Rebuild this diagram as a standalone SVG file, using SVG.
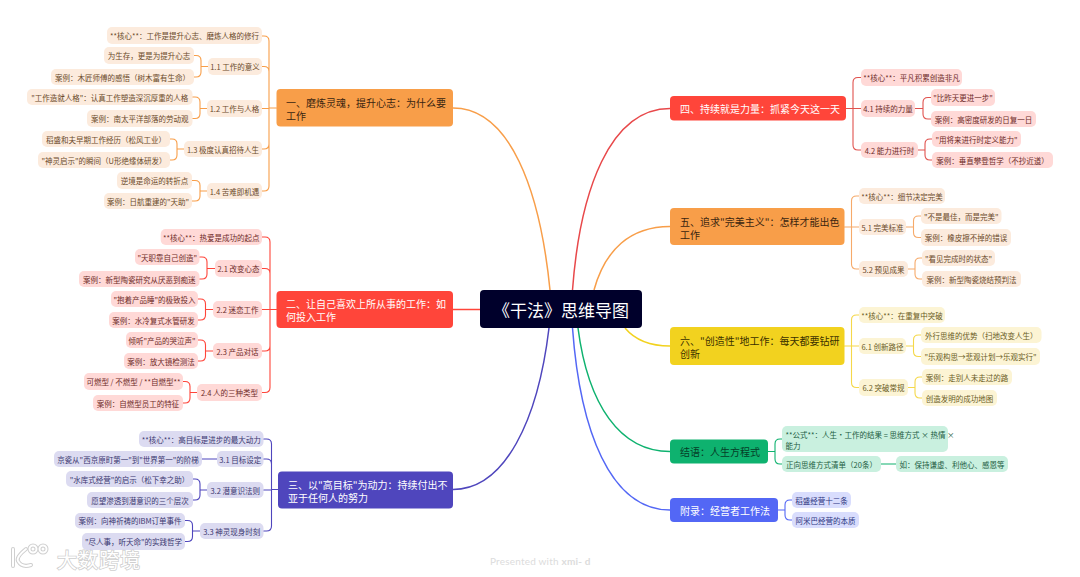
<svg xmlns="http://www.w3.org/2000/svg" width="1080" height="577" viewBox="0 0 1080 577">
<style>
text{font-family:"Noto Sans CJK SC","Noto Sans",sans-serif}
.s{font-size:7.5px;text-anchor:middle;dominant-baseline:central}
.m{font-size:10px;dominant-baseline:central}
.c{fill:none;stroke-width:1.1;stroke-linecap:round}
.k{fill:none;stroke-width:1.5}
.o rect{fill:#fcebdd}.o text{fill:#6b4a2a}
.r rect{fill:#ffd9d7}.r text{fill:#6e2b28}
.i rect{fill:#dcdbf1}.i text{fill:#3a3770}
.y rect{fill:#fcf4d4}.y text{fill:#6a5c1e}
.g rect{fill:#c9f0df}.g text{fill:#1c5c42}
.b rect{fill:#d9ddfd}.b text{fill:#2b3380}
.mo rect{fill:#f89e49}.mo text{fill:#3a2510}
.mr rect{fill:#ff453a}.mr text{fill:#fff}
.mi rect{fill:#4f46bd}.mi text{fill:#fff}
.my rect{fill:#f2d21f}.my text{fill:#3a3000}
.mg rect{fill:#0eb26f}.mg text{fill:#063d27}
.mb rect{fill:#5367f5}.mb text{fill:#fff}
</style>
<rect width="1080" height="577" fill="#fff"/>
<g id="connectors">
<g class="k">
<path stroke="#f89e49" d="M453,108C510,108 540,190 550,290"/>
<path stroke="#ff453a" d="M453,309.5H480"/>
<path stroke="#4f46bd" d="M453,489.5C505,489.5 538,420 549,328"/>
<path stroke="#e8484a" d="M572.5,290C580,190 610,108.5 670,108.5"/>
<path stroke="#f89e49" d="M594,290C605,250 630,226.500 670,226.500"/>
<path stroke="#f2d21f" d="M625,328C635,340 650,346 670,346"/>
<path stroke="#0eb26f" d="M578,328C588,405 620,451.500 670,451.500"/>
<path stroke="#5367f5" d="M572.5,328C580,430 610,510 670,510"/>
</g>
<g class="c" stroke="#f89e49">
<path d="M276.5,108H269M262,36H264Q269,36 269,41V186Q269,191 264,191H262M262,66.500H264Q269,66.500 269,71.500M262,108.500H269M262,149H264Q269,149 269,144"/>
<path d="M208,66.500H201M194,55.500H196Q201,55.500 201,60.500V72Q201,77 196,77H194"/>
<path d="M207,108.500H200M192.500,97H195Q200,97 200,102V113.500Q200,118.500 195,118.500H192.500"/>
<path d="M184,149H177M170,139H172Q177,139 177,144V155Q177,160 172,160H170"/>
<path d="M207,191H200M192,180.500H195Q200,180.500 200,185.500V196Q200,201 195,201H192"/>
</g>
<g class="c" stroke="#ff453a">
<path d="M276.500,309.500H270M262,237H265Q270,237 270,242V387.500Q270,392.500 265,392.500H262M262,268.500H265Q270,268.500 270,273.500M262,309.500H270M262,351H265Q270,351 270,346"/>
<path d="M215,268.500H207M199.500,257H202Q207,257 207,262V274Q207,279 202,279H199.500"/>
<path d="M213,309.500H205.500M198,299H200.500Q205.500,299 205.500,304V315Q205.500,320 200.500,320H198"/>
<path d="M213,351H205.500M198,340H200.500Q205.500,340 205.500,345V356Q205.500,361 200.500,361H198"/>
<path d="M197,392.500H190M183,381.500H185Q190,381.500 190,386.500V398Q190,403 185,403H183"/>
</g>
<g class="c" stroke="#4f46bd">
<path d="M278,489.500H271.500M263.500,439H266.500Q271.500,439 271.500,444V526Q271.500,531 266.500,531H263.500M263.500,459H266.500Q271.500,459 271.500,464M263.500,490H271.500"/>
<path d="M217,459H202"/>
<path d="M207,490H200M193,479H195Q200,479 200,484V495Q200,500 195,500H193"/>
<path d="M200,531H192.500M185,520.500H187.500Q192.500,520.500 192.500,525.500V536.500Q192.500,541.500 187.500,541.500H185"/>
</g>
<g class="c" stroke="#e0524e">
<path d="M846,108.500H853M861,77.500H858Q853,77.500 853,82.500V145Q853,150 858,150H861M853,108.500H861"/>
<path d="M915,108.500H923M931,97.500H928Q923,97.500 923,102.500V114Q923,119 928,119H931"/>
<path d="M918,150H925M932,139H930Q925,139 925,144V155Q925,160 930,160H932"/>
</g>
<g class="c" stroke="#f6aa6a">
<path d="M844.500,227H851.500M859,196H856.500Q851.500,196 851.500,201V264Q851.500,269 856.500,269H859M851.500,227H859"/>
<path d="M906,227H913.500M921,216H918.500Q913.500,216 913.500,221V232.500Q913.500,237.500 918.500,237.500H921"/>
<path d="M908,269H915M922,258H920Q915,258 915,263V274Q915,279 920,279H922"/>
</g>
<g class="c" stroke="#f5d84a">
<path d="M844.500,346H851.500M859,315H856.500Q851.500,315 851.500,320V382.500Q851.500,387.500 856.500,387.500H859M851.500,346H859"/>
<path d="M906,346H913.500M921,335H918.500Q913.500,335 913.500,340V351.500Q913.500,356.500 918.500,356.500H921"/>
<path d="M908,387.500H915M922,377H920Q915,377 915,382V393Q915,398 920,398H922"/>
</g>
<g class="c" stroke="#0eb26f">
<path d="M768,451.500H775M782,439H780Q775,439 775,444V459Q775,464 780,464H782"/>
<path d="M881,464H896"/>
</g>
<g class="c" stroke="#5367f5">
<path d="M778,510H785M792,500H790Q785,500 785,505V515Q785,520 790,520H792"/>
</g>
</g>

<g id="root"><rect x="480" y="290" width="162" height="38" rx="4" fill="#00002b"/><text x="561" y="309.500" font-size="17" fill="#fff" text-anchor="middle" dominant-baseline="central">《干法》思维导图</text></g>

<g id="n1" class="mo"><rect x="276.500" y="89" width="176.500" height="37.500" rx="4"/><text class="m" x="286" y="102">一、磨炼灵魂，提升心志：为什么要</text><text class="m" x="286" y="115">工作</text></g>
<g id="n2" class="mr"><rect x="276.500" y="291" width="176.500" height="37" rx="4"/><text class="m" x="286" y="303">二、让自己喜欢上所从事的工作：如</text><text class="m" x="286" y="316">何投入工作</text></g>
<g id="n3" class="mi"><rect x="278" y="471.500" width="175" height="37" rx="4"/><text class="m" x="288" y="484">三、以"高目标"为动力：持续付出不</text><text class="m" x="288" y="497">亚于任何人的努力</text></g>
<g id="n4" class="mr"><rect x="670" y="96" width="176" height="24.500" rx="4"/><text class="m" x="680" y="108.500">四、持续就是力量：抓紧今天这一天</text></g>
<g id="n5" class="mo"><rect x="670" y="208" width="174.500" height="37" rx="4"/><text class="m" x="680" y="221">五、追求"完美主义"：怎样才能出色</text><text class="m" x="680" y="234">工作</text></g>
<g id="n6" class="my"><rect x="670" y="327" width="174.500" height="38" rx="4"/><text class="m" x="680" y="340">六、"创造性"地工作：每天都要钻研</text><text class="m" x="680" y="353">创新</text></g>
<g id="n7" class="mg"><rect x="670" y="439.500" width="98" height="24" rx="4"/><text class="m" x="680" y="451.500">结语：人生方程式</text></g>
<g id="n8" class="mb"><rect x="670" y="498" width="108" height="24" rx="4"/><text class="m" x="680" y="510">附录：经营者工作法</text></g>

<g class="o">
<g id="a0"><rect x="107" y="27" width="155" height="17" rx="5"/><text class="s" x="184.500" y="35.500">**核心**：工作是提升心志、磨炼人格的修行</text></g>
<g id="a1"><rect x="208" y="58" width="54" height="17" rx="5"/><text class="s" x="235" y="66.500">1.1 工作的意义</text></g>
<g id="a11"><rect x="104" y="47" width="90" height="17" rx="5"/><text class="s" x="149" y="55.500">为生存，更是为提升心志</text></g>
<g id="a12"><rect x="51" y="69" width="143" height="16" rx="5"/><text class="s" x="122.500" y="77">案例：木匠师傅的感悟（树木富有生命）</text></g>
<g id="a2"><rect x="207" y="100" width="55" height="17" rx="5"/><text class="s" x="234.500" y="108.500">1.2 工作与人格</text></g>
<g id="a21"><rect x="27" y="89" width="165.500" height="16" rx="5"/><text class="s" x="109.700" y="97">"工作造就人格"：认真工作塑造深沉厚重的人格</text></g>
<g id="a22"><rect x="87" y="110" width="105.500" height="17" rx="5"/><text class="s" x="139.700" y="118.500">案例：南太平洋部落的劳动观</text></g>
<g id="a3"><rect x="184" y="141" width="78" height="16" rx="5"/><text class="s" x="223" y="149">1.3 极度认真招待人生</text></g>
<g id="a31"><rect x="42" y="131" width="128" height="16" rx="5"/><text class="s" x="106" y="139">稻盛和夫早期工作经历（松风工业）</text></g>
<g id="a32"><rect x="38" y="152" width="132" height="16" rx="5"/><text class="s" x="104" y="160">"神灵启示"的瞬间（U形绝缘体研发）</text></g>
<g id="a4"><rect x="207" y="183" width="55" height="16" rx="5"/><text class="s" x="234.500" y="191">1.4 苦难即机遇</text></g>
<g id="a41"><rect x="117" y="172" width="75" height="17" rx="5"/><text class="s" x="154.500" y="180.500">逆境是命运的转折点</text></g>
<g id="a42"><rect x="104" y="193" width="88" height="16" rx="5"/><text class="s" x="148" y="201">案例：日航重建的"天助"</text></g>
</g>
<g class="r">
<g id="b0"><rect x="160.700" y="229" width="101.300" height="16" rx="5"/><text class="s" x="211.300" y="237">**核心**：热爱是成功的起点</text></g>
<g id="b1"><rect x="215" y="260" width="47" height="17" rx="5"/><text class="s" x="238.500" y="268.500">2.1 改变心态</text></g>
<g id="b11"><rect x="135" y="249" width="64.500" height="16" rx="5"/><text class="s" x="167.200" y="257">"天职靠自己创造"</text></g>
<g id="b12"><rect x="79" y="271" width="120.500" height="16" rx="5"/><text class="s" x="139.200" y="279">案例：新型陶瓷研究从厌恶到痴迷</text></g>
<g id="b2"><rect x="213" y="301" width="49" height="17" rx="5"/><text class="s" x="237.500" y="309.500">2.2 迷恋工作</text></g>
<g id="b21"><rect x="111" y="291" width="87" height="16" rx="5"/><text class="s" x="154.500" y="299">"抱着产品睡"的极致投入</text></g>
<g id="b22"><rect x="109" y="312" width="89" height="16" rx="5"/><text class="s" x="153.500" y="320">案例：水冷复式水管研发</text></g>
<g id="b3"><rect x="213" y="343" width="49" height="16" rx="5"/><text class="s" x="237.500" y="351">2.3 产品对话</text></g>
<g id="b31"><rect x="126" y="332" width="72" height="16" rx="5"/><text class="s" x="162" y="340">倾听"产品的哭泣声"</text></g>
<g id="b32"><rect x="124" y="353" width="74" height="16" rx="5"/><text class="s" x="161" y="361">案例：放大镜检测法</text></g>
<g id="b4"><rect x="197" y="384" width="65" height="17" rx="5"/><text class="s" x="229.500" y="392.500">2.4 人的三种类型</text></g>
<g id="b41"><rect x="84" y="373" width="99" height="17" rx="5"/><text class="s" x="133.500" y="381.500">可燃型 / 不燃型 / **自燃型**</text></g>
<g id="b42"><rect x="93" y="395" width="90" height="16" rx="5"/><text class="s" x="138" y="403">案例：自燃型员工的特征</text></g>
</g>
<g class="i">
<g id="c0"><rect x="139" y="431" width="124.500" height="16" rx="5"/><text class="s" x="201.200" y="439">**核心**：高目标是进步的最大动力</text></g>
<g id="c1"><rect x="217" y="451" width="46.500" height="16" rx="5"/><text class="s" x="240.200" y="459">3.1 目标设定</text></g>
<g id="c11"><rect x="54" y="451" width="148" height="16" rx="5"/><text class="s" x="128" y="459">京瓷从"西京原町第一"到"世界第一"的阶梯</text></g>
<g id="c2"><rect x="207" y="482" width="56.500" height="16" rx="5"/><text class="s" x="235.200" y="490">3.2 潜意识法则</text></g>
<g id="c21"><rect x="66" y="471" width="127" height="16" rx="5"/><text class="s" x="129.500" y="479">"水库式经营"的启示（松下幸之助）</text></g>
<g id="c22"><rect x="87" y="492" width="106" height="16" rx="5"/><text class="s" x="140" y="500">愿望渗透到潜意识的三个层次</text></g>
<g id="c3"><rect x="200" y="523" width="63.500" height="16" rx="5"/><text class="s" x="231.700" y="531">3.3 神灵现身时刻</text></g>
<g id="c31"><rect x="75" y="513" width="110" height="15.500" rx="5"/><text class="s" x="130" y="520.700">案例：向神祈祷的IBM订单事件</text></g>
<g id="c32"><rect x="82" y="533" width="103" height="17" rx="5"/><text class="s" x="133.500" y="541">"尽人事，听天命"的实践哲学</text></g>
</g>
<g class="r">
<g id="d0"><rect x="861" y="69" width="101" height="17" rx="5"/><text class="s" x="911.500" y="77.500">**核心**：平凡积累创造非凡</text></g>
<g id="d1"><rect x="861" y="100" width="54" height="17" rx="5"/><text class="s" x="888" y="108.500">4.1 持续的力量</text></g>
<g id="d11"><rect x="931" y="89" width="64" height="17" rx="5"/><text class="s" x="963" y="97.500">"比昨天更进一步"</text></g>
<g id="d12"><rect x="931" y="111" width="105" height="16" rx="5"/><text class="s" x="983.500" y="119">案例：高密度研发的日复一日</text></g>
<g id="d2"><rect x="861" y="142" width="57" height="16" rx="5"/><text class="s" x="889.500" y="150">4.2 能力进行时</text></g>
<g id="d21"><rect x="932" y="131" width="89" height="16" rx="5"/><text class="s" x="976.500" y="139">"用将来进行时定义能力"</text></g>
<g id="d22"><rect x="932" y="152" width="121" height="16" rx="5"/><text class="s" x="992.500" y="160">案例：垂直攀登哲学（不抄近道）</text></g>
</g>
<g class="o">
<g id="e0"><rect x="859" y="188" width="86" height="16" rx="5"/><text class="s" x="902" y="196">**核心**：细节决定完美</text></g>
<g id="e1"><rect x="859" y="219" width="47" height="16" rx="5"/><text class="s" x="882.500" y="227">5.1 完美标准</text></g>
<g id="e11"><rect x="921" y="208" width="80.500" height="16" rx="5"/><text class="s" x="961.200" y="216">"不是最佳，而是完美"</text></g>
<g id="e12"><rect x="921" y="229" width="90" height="17" rx="5"/><text class="s" x="966" y="237.500">案例：橡皮擦不掉的错误</text></g>
<g id="e2"><rect x="859" y="261" width="49" height="16" rx="5"/><text class="s" x="883.500" y="269">5.2 预见成果</text></g>
<g id="e21"><rect x="922" y="250" width="73" height="16" rx="5"/><text class="s" x="958.500" y="258">"看见完成时的状态"</text></g>
<g id="e22"><rect x="922" y="271" width="99" height="16" rx="5"/><text class="s" x="971.500" y="279">案例：新型陶瓷烧结预判法</text></g>
</g>
<g class="y">
<g id="f0"><rect x="859" y="307" width="86" height="16" rx="5"/><text class="s" x="902" y="315">**核心**：在重复中突破</text></g>
<g id="f1"><rect x="859" y="338" width="47" height="16" rx="5"/><text class="s" x="882.500" y="346">6.1 创新路径</text></g>
<g id="f11"><rect x="921" y="327" width="120.500" height="16" rx="5"/><text class="s" x="981.200" y="335">外行思维的优势（扫地改变人生）</text></g>
<g id="f12"><rect x="921" y="348" width="119" height="17" rx="5"/><text class="s" x="980.500" y="356.500">"乐观构思→悲观计划→乐观实行"</text></g>
<g id="f2"><rect x="859" y="379" width="49" height="17" rx="5"/><text class="s" x="883.500" y="387.500">6.2 突破常规</text></g>
<g id="f21"><rect x="922" y="369" width="90" height="16" rx="5"/><text class="s" x="967" y="377">案例：走别人未走过的路</text></g>
<g id="f22"><rect x="922" y="390" width="75" height="16" rx="5"/><text class="s" x="959.500" y="398">创造发明的成功地图</text></g>
</g>
<g class="g">
<g id="g1"><rect x="782" y="426" width="166" height="26" rx="5"/><text class="s" style="text-anchor:start" x="785.500" y="434">**公式**：人生·工作的结果 = 思维方式 × 热情 ×</text><text class="s" style="text-anchor:start" x="785.500" y="445">能力</text></g>
<g id="g2"><rect x="782" y="456" width="99" height="16" rx="5"/><text class="s" x="831.500" y="464">正向思维方式清单（20条）</text></g>
<g id="g21"><rect x="896" y="456" width="112" height="16" rx="5"/><text class="s" x="952" y="464">如：保持谦虚、利他心、感恩等</text></g>
</g>
<g class="b">
<g id="h1"><rect x="792" y="492" width="59" height="16" rx="5"/><text class="s" x="821.500" y="500">稻盛经营十二条</text></g>
<g id="h2"><rect x="792" y="512" width="67" height="16" rx="5"/><text class="s" x="825.500" y="520">阿米巴经营的本质</text></g>
</g>

<text x="490" y="561" font-size="10" letter-spacing="0.200" fill="#dcdcdc" dominant-baseline="central" style="font-family:Lato,'Liberation Sans',sans-serif">Presented with <tspan font-weight="bold">xmi- d</tspan></text>

<g id="watermark">
<g fill="none" stroke="#cfcfcf" stroke-width="4" stroke-linecap="round"><path d="M13,549V566M26,549Q16,557 18,561Q22,568 31,565"/><circle cx="33" cy="549" r="3.500"/><circle cx="43" cy="549" r="3.500"/></g>
<g fill="none" stroke="#fff" stroke-width="2" stroke-linecap="round"><path d="M13,549V566M26,549Q16,557 18,561Q22,568 31,565"/><circle cx="33" cy="549" r="3.500"/><circle cx="43" cy="549" r="3.500"/></g>
<text x="57" y="559" font-size="20" letter-spacing="1" dominant-baseline="central" fill="#fff" stroke="#cfcfcf" stroke-width="1.600" paint-order="stroke">大数跨境</text>
</g>
</svg>
